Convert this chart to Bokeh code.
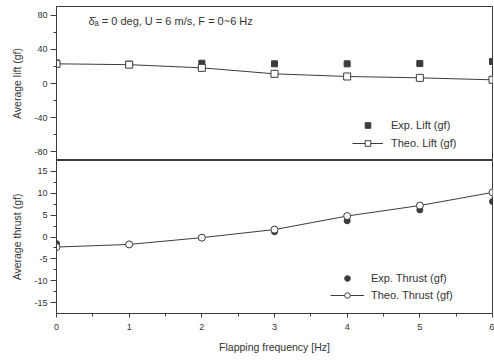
from bokeh.plotting import figure
from bokeh.models import Range1d, FixedTicker, Legend, LegendItem, Label
from bokeh.layouts import column
from bokeh.embed import file_html
from bokeh.resources import INLINE

# ---- data ----
freq = [0, 1, 2, 3, 4, 5, 6]
exp_lift = [24.0, 22.5, 23.7, 23.0, 23.0, 23.4, 25.7]
theo_lift = [23.0, 22.0, 18.3, 11.3, 8.2, 6.6, 4.3]
exp_thrust = [-1.5, -1.7, -0.2, 1.2, 3.7, 6.2, 8.1]
theo_thrust = [-2.3, -1.7, -0.15, 1.7, 4.8, 7.2, 10.2]
x_ticks = [0, 1, 2, 3, 4, 5, 6]
lift_ticks = [-80, -40, 0, 40, 80]
thrust_ticks = [-15, -10, -5, 0, 5, 10, 15]

FONT = "Liberation Sans"
INK = "#333333"
LINE = "#3c3c3c"
W = 494

def style_axis(ax, ticks, minor):
    ax.ticker = FixedTicker(ticks=ticks, minor_ticks=minor)
    ax.major_label_overrides = {t: str(t) for t in ticks}
    ax.major_label_text_font = FONT
    ax.major_label_text_font_size = "9px"
    ax.major_label_text_color = INK
    ax.axis_label_text_font = FONT
    ax.axis_label_text_font_size = "10.5px"
    ax.axis_label_text_font_style = "normal"
    ax.axis_label_text_color = INK
    ax.axis_line_color = LINE
    ax.major_tick_line_color = LINE
    ax.minor_tick_line_color = LINE
    ax.major_tick_out = 6
    ax.major_tick_in = 0
    ax.minor_tick_out = 3
    ax.minor_tick_in = 0
    ax.major_label_standoff = 3
    ax.axis_label_standoff = 8

def half(vals):
    return [(a + b) / 2 for a, b in zip(vals[:-1], vals[1:])]

# ---- top panel: lift ----
top = figure(width=W, height=160, x_range=Range1d(0, 6), y_range=Range1d(-90, 90),
             output_backend="svg", toolbar_location=None, x_axis_location=None,
             min_border_left=56, min_border_right=2, min_border_top=6, min_border_bottom=0)
top.grid.visible = False
top.outline_line_color = LINE
top.outline_line_width = 1
top.background_fill_color = "white"
top.border_fill_color = "white"
style_axis(top.yaxis[0], lift_ticks, half(lift_ticks))
top.yaxis[0].axis_label = "Average lift (gf)"

r_el = top.scatter(freq, exp_lift, marker="square", size=6, color=LINE)
r_tl_line = top.line(freq, theo_lift, line_color=LINE, line_width=1)
r_tl = top.scatter(freq, theo_lift, marker="square", size=7, fill_color="white",
                   line_color=LINE, line_width=1)

leg1 = Legend(items=[LegendItem(label="Exp. Lift (gf)", renderers=[r_el]),
                     LegendItem(label="Theo. Lift (gf)", renderers=[r_tl_line, r_tl])],
              location=(296, 10), background_fill_alpha=0, border_line_alpha=0,
              padding=0, margin=0, spacing=4, glyph_width=31, glyph_height=14,
              label_height=14, label_standoff=8, label_text_font=FONT,
              label_text_font_size="11px", label_text_color=INK)
top.add_layout(leg1, "center")

ann = Label(x=0.44, y=73, text="\u03b4\u0304\u2090 = 0 deg, U = 6 m/s, F = 0~6 Hz",
            text_font=FONT, text_font_size="11px", text_color=INK,
            text_baseline="middle", text_align="left")
top.add_layout(ann)

# ---- bottom panel: thrust ----
bot = figure(width=W, height=200, x_range=top.x_range, y_range=Range1d(-17.5, 17.5),
             output_backend="svg", toolbar_location=None,
             min_border_left=56, min_border_right=2, min_border_top=0, min_border_bottom=47)
bot.grid.visible = False
bot.outline_line_color = LINE
bot.background_fill_color = "white"
bot.border_fill_color = "white"
style_axis(bot.yaxis[0], thrust_ticks, half(thrust_ticks))
bot.yaxis[0].axis_label = "Average thrust (gf)"
style_axis(bot.xaxis[0], x_ticks, half(x_ticks))
bot.xaxis[0].axis_label = "Flapping frequency [Hz]"
bot.xaxis[0].major_tick_out = 4
bot.xaxis[0].major_label_standoff = 6
bot.xaxis[0].axis_label_standoff = 8

r_et = bot.scatter(freq, exp_thrust, marker="circle", size=6, color=LINE)
r_tt_line = bot.line(freq, theo_thrust, line_color=LINE, line_width=1)
r_tt = bot.scatter(freq, theo_thrust, marker="circle", size=7, fill_color="white",
                   line_color=LINE, line_width=1)

leg2 = Legend(items=[LegendItem(label="Exp. Thrust (gf)", renderers=[r_et]),
                     LegendItem(label="Theo. Thrust (gf)", renderers=[r_tt_line, r_tt])],
              location=(274, 11), background_fill_alpha=0, border_line_alpha=0,
              padding=0, margin=0, spacing=3, glyph_width=34, glyph_height=14,
              label_height=14, label_standoff=7, label_text_font=FONT,
              label_text_font_size="11px", label_text_color=INK)
bot.add_layout(leg2, "center")

p = column(top, bot, spacing=0)
open("out.html", "w").write(file_html(p, INLINE))
